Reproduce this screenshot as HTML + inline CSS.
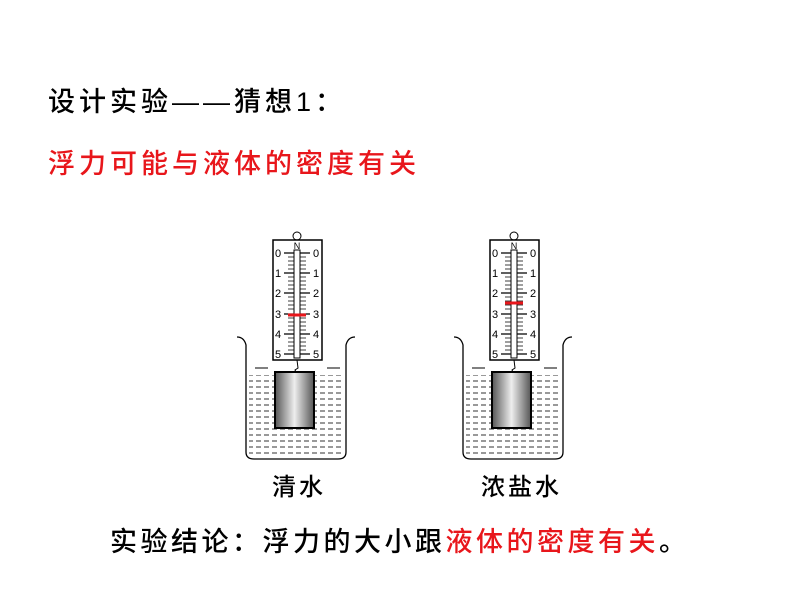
<!DOCTYPE html>
<html><head><meta charset="utf-8"><style>
body{margin:0;width:800px;height:600px;background:#fff;position:relative;overflow:hidden;font-family:"Liberation Sans","Noto Sans CJK SC",sans-serif}
.t{position:absolute;white-space:nowrap;font-size:27px;letter-spacing:4px;font-weight:500}
</style></head><body>
<div class="t" style="left:48px;top:80px;color:#000">设计实验——猜想1：</div>
<div class="t" style="left:48px;top:142px;color:#e8161b">浮力可能与液体的密度有关</div>
<div class="t" style="left:272px;top:467px;font-size:24px;letter-spacing:3px">清水</div>
<div class="t" style="left:481px;top:467px;font-size:24px;letter-spacing:3px">浓盐水</div>
<div class="t" style="left:110px;top:520px;letter-spacing:3.5px">实验结论：浮力的大小跟<span style="color:#e8161b">液体的密度有关</span>。</div>
<svg width="800" height="600" style="position:absolute;left:0;top:0">
<defs>
<linearGradient id="g" x1="0" x2="1"><stop offset="0" stop-color="#555"/><stop offset="0.5" stop-color="#eee"/><stop offset="1" stop-color="#555"/></linearGradient>
<pattern id="w" width="8" height="6" patternUnits="userSpaceOnUse"><line x1="0" y1="3" x2="5" y2="3" stroke="#333" stroke-width="1"/></pattern>
<g id="s">
<circle cx="297" cy="236" r="4" fill="none" stroke="#000"/>
<rect x="273" y="240" width="49" height="120" fill="#fff" stroke="#000" stroke-width="1.5"/>
<text x="297" y="249" font-size="9" text-anchor="middle" font-family="Liberation Sans">N</text>
<rect x="294" y="250" width="6" height="108" fill="#fff" stroke="#000"/>
<g font-size="11" font-family="Liberation Sans">
<text x="275" y="257">0</text><text x="313" y="257">0</text>
<text x="275" y="277">1</text><text x="313" y="277">1</text>
<text x="275" y="297">2</text><text x="313" y="297">2</text>
<text x="275" y="318">3</text><text x="313" y="318">3</text>
<text x="275" y="338">4</text><text x="313" y="338">4</text>
<text x="275" y="358">5</text><text x="313" y="358">5</text>
</g>
<path d="M284 253H294M300 253H310M284 273H294M300 273H310M284 293H294M300 293H310M284 314H294M300 314H310M284 334H294M300 334H310M284 354H294M300 354H310" stroke="#000" stroke-width="1.3"/>
<path d="M288 257H294M300 257H306M288 261H294M300 261H306M288 265H294M300 265H306M288 269H294M300 269H306M288 277H294M300 277H306M288 281H294M300 281H306M288 285H294M300 285H306M288 289H294M300 289H306M288 297H294M300 297H306M288 301H294M300 301H306M288 305H294M300 305H306M288 309H294M300 309H306M288 318H294M300 318H306M288 322H294M300 322H306M288 326H294M300 326H306M288 330H294M300 330H306M288 338H294M300 338H306M288 342H294M300 342H306M288 346H294M300 346H306M288 350H294M300 350H306" stroke="#000" stroke-width="0.8"/>
<path d="M297 360 L298 368 L295 370 L296 372" fill="none" stroke="#000"/>
<path d="M237 337 Q244 337 246 345 L246 452 Q246 459 254 459 L338 459 Q346 459 346 452 L346 345 Q348 337 355 337" fill="none" stroke="#000" stroke-width="1.3"/>
<line x1="255" y1="368" x2="268" y2="368" stroke="#000"/><line x1="327" y1="368" x2="340" y2="368" stroke="#000"/>
<rect x="249" y="375" width="95" height="82" fill="url(#w)"/>
<rect x="275" y="372" width="39" height="56" fill="url(#g)" stroke="#000" stroke-width="2"/>
</g>
</defs>
<use href="#s"/>
<line x1="288" y1="315" x2="306" y2="315" stroke="#e8161b" stroke-width="3"/>
<use href="#s" x="217"/>
<line x1="505" y1="303" x2="523" y2="303" stroke="#e8161b" stroke-width="3"/>
</svg>
</body></html>
